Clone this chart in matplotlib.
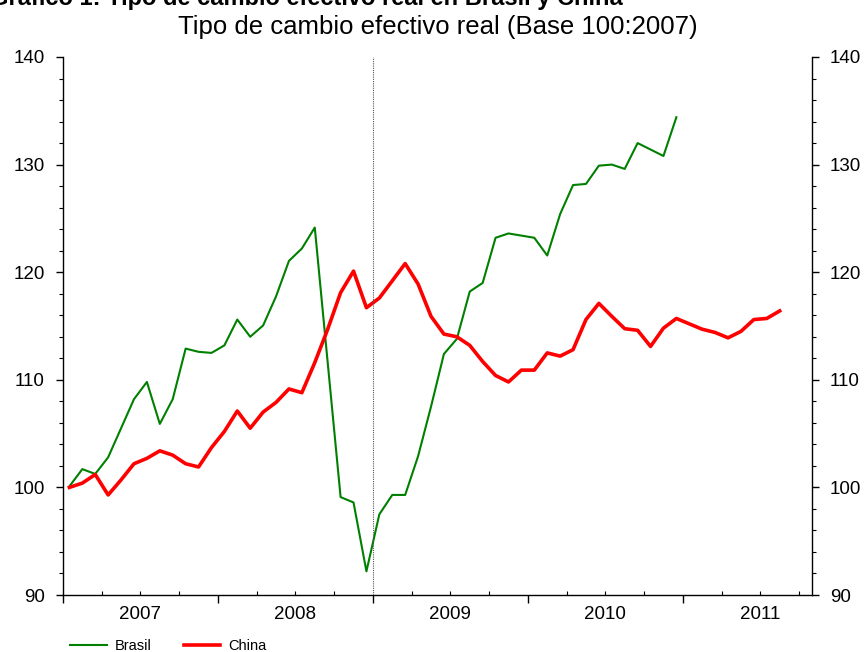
"""Tipo de cambio efectivo real: Brasil y China (Base 100:2007)."""

import matplotlib

matplotlib.use("Agg")
import matplotlib.pyplot as plt
from matplotlib.ticker import FixedLocator, MultipleLocator, NullFormatter

# monthly values, starting January 2007
brasil = [
    100.1, 101.7, 101.25, 102.8, 105.5, 108.2, 109.8, 105.9, 108.2, 112.9,
    112.6, 112.5, 113.2, 115.6, 114.0, 115.05, 117.75, 121.05, 122.2, 124.15,
    111.6, 99.1, 98.6, 92.2, 97.5, 99.3, 99.3, 102.9, 107.5, 112.4,
    113.8, 118.2, 119.0, 123.2, 123.6, 123.4, 123.2, 121.55, 125.4, 128.1,
    128.2, 129.9, 130.0, 129.6, 132.0, 131.4, 130.8, 134.4,
]
china = [
    100.0, 100.4, 101.2, 99.3, 100.7, 102.2, 102.7, 103.4, 103.0, 102.2,
    101.9, 103.7, 105.2, 107.1, 105.5, 107.0, 107.9, 109.15, 108.8, 111.6,
    114.7, 118.1, 120.1, 116.7, 117.6, 119.2, 120.8, 118.9, 115.9, 114.25,
    114.0, 113.2, 111.7, 110.4, 109.8, 110.9, 110.9, 112.5, 112.2, 112.8,
    115.6, 117.1, 115.9, 114.75, 114.6, 113.1, 114.8, 115.7, 115.2, 114.7,
    114.4, 113.9, 114.5, 115.6, 115.7, 116.4,
]
years = ["2007", "2008", "2009", "2010", "2011"]

plt.rcParams["font.family"] = ["Liberation Sans", "DejaVu Sans"]

fig = plt.figure(figsize=(8.66, 6.52), dpi=100)
ax = fig.add_axes([0.0727, 0.0874, 0.8649, 0.8252])

x_br = [i + 0.5 for i in range(len(brasil))]
x_cn = [i + 0.5 for i in range(len(china))]
line_br, = ax.plot(x_br, brasil, color="#008000", lw=1.5, label="Brasil")
line_cn, = ax.plot(x_cn, china, color="#ff0000", lw=2.6, label="China")

# vertical marker at the start of 2009
ax.axvline(24, color="#555555", lw=0.8, ls=(0, (1, 1)))

ax.set_xlim(0, 58)
ax.set_ylim(90, 140)

ax.xaxis.set_major_locator(FixedLocator([0, 12, 24, 36, 48]))
ax.xaxis.set_minor_locator(MultipleLocator(3))
ax.xaxis.set_major_formatter(NullFormatter())
ax.tick_params(axis="x", which="major", direction="out", length=6, width=1)
ax.tick_params(axis="x", which="minor", direction="in", length=3, width=0.8)
for k, yr in enumerate(years):
    ax.text(6 + 12 * k, -0.02, yr, transform=ax.get_xaxis_transform(),
            ha="center", va="top", fontsize=13.5)

ax.yaxis.set_major_locator(MultipleLocator(10))
ax.yaxis.set_minor_locator(MultipleLocator(2))
ax.tick_params(axis="y", which="both", direction="out", left=True, right=True,
               labelleft=True, labelright=True, labelsize=13.5, pad=8)
ax.tick_params(axis="y", which="major", length=5, width=1)
ax.tick_params(axis="y", which="minor", length=3, width=0.8)

ax.spines["top"].set_visible(False)
for side in ["left", "right", "bottom"]:
    ax.spines[side].set_linewidth(1.0)

fig.text(0.505, 0.958, "Tipo de cambio efectivo real (Base 100:2007)",
         ha="center", va="center", fontsize=18.5)
# main title sits partly above the top edge, as in the source image
fig.text(-0.012, 1.003, "Gráfico 1: Tipo de cambio efectivo real en Brasil y China",
         ha="left", va="center", fontsize=17, fontweight="bold")

fig.legend(handles=[line_br, line_cn], loc="lower left",
           bbox_to_anchor=(0.066, -0.022), ncol=2, frameon=False,
           fontsize=10.5, handlelength=2.5, columnspacing=2.2, handletextpad=0.55)

fig.savefig("out.png", dpi=100)
